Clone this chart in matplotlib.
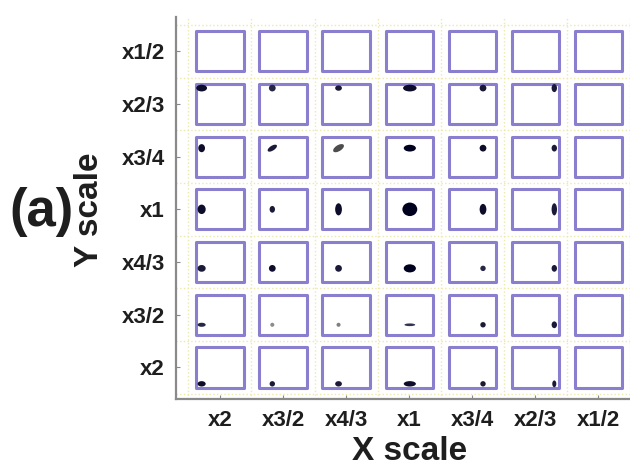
"""
Scale-response grid: each cell shows where the detector response lands
for a given (X scale, Y scale) pair.
"""

import numpy as np
import matplotlib
matplotlib.use('Agg')
import matplotlib.pyplot as plt
from matplotlib.patches import Rectangle, Ellipse


# ─────────────────────────────────────────────────────────────────────
# Data
# ─────────────────────────────────────────────────────────────────────

X_LABELS = ['x2', 'x3/2', 'x4/3', 'x1', 'x3/4', 'x2/3', 'x1/2']
Y_LABELS = ['x2', 'x3/2', 'x4/3', 'x1', 'x3/4', 'x2/3', 'x1/2']   # bottom -> top

# response shift inside a cell (fraction of cell), NaN = no response
SHIFT_X = [-0.29, -0.17, -0.12, 0.01, 0.17, 0.30, np.nan]
SHIFT_Y = [-0.31, -0.19, -0.12, 0.00, 0.16, 0.30, np.nan]

# blob extent (px in the original image), rows bottom -> top, cols x2 .. x2/3
BLOB_W = [
    [6, 4, 5, 9, 4, 3],
    [6, 3, 3, 8, 4, 4],
    [6, 5, 5, 9, 4, 4],
    [6, 4, 5, 11, 5, 4],
    [5, 4, 5, 9, 5, 4],
    [8, 5, 5, 10, 5, 4],
]
BLOB_H = [
    [4, 4, 4, 4, 4, 5],
    [3, 3, 3, 2, 4, 5],
    [5, 5, 5, 6, 4, 5],
    [7, 5, 9, 10, 8, 9],
    [6, 7, 8, 5, 5, 5],
    [5, 5, 4, 5, 5, 6],
]
BLOB_ANGLE = [
    [0, 0, 0, 0, 0, 0],
    [0, 0, 0, 0, 0, 0],
    [-20, 0, 0, 0, 0, 0],
    [0, 0, 0, 0, 0, 0],
    [0, -50, -50, 0, 0, 0],
    [0, 0, 0, 0, 0, 0],
]
BLOB_SHADE = [
    [0.05, 0.1, 0.1, 0.05, 0.1, 0.1],
    [0.15, 0.55, 0.5, 0.2, 0.1, 0.1],
    [0.1, 0.05, 0.1, 0.0, 0.15, 0.1],
    [0.05, 0.1, 0.05, 0.0, 0.05, 0.1],
    [0.05, 0.1, 0.3, 0.0, 0.05, 0.1],
    [0.05, 0.15, 0.1, 0.05, 0.1, 0.1],
]

BOX_COLOR = '#8a7fcf'
TEXT_COLOR = '#1e1e1e'
PX_X, PX_Y = 63.0, 52.7           # pixels per cell in the reference
FONT = ['Liberation Sans Narrow', 'Liberation Sans', 'DejaVu Sans']

plt.rcParams['font.family'] = FONT

fig = plt.figure(figsize=(6.3, 4.69), dpi=100)
ax = fig.add_axes([0.279, 0.149, 0.721, 0.815])

n = len(X_LABELS)
for j in range(n):
    for i in range(n):
        ax.add_patch(Rectangle((i - 0.375, j - 0.38), 0.75, 0.76,
                               fill=False, edgecolor=BOX_COLOR, lw=2.2,
                               joinstyle='round', zorder=2))

for j in range(n - 1):
    for i in range(n - 1):
        cx = i + SHIFT_X[i]
        cy = j + SHIFT_Y[j]
        g = BLOB_SHADE[j][i]
        col = (g, g, g + 0.12 if g < 0.3 else g)
        ax.add_patch(Ellipse((cx, cy), BLOB_W[j][i] * 1.35 / PX_X,
                             BLOB_H[j][i] * 1.35 / PX_Y, angle=BLOB_ANGLE[j][i],
                             facecolor=col, edgecolor='none', zorder=3))

ax.set_xlim(-0.7, 6.5)
ax.set_ylim(-0.6, 6.65)
ax.set_xticks(range(n))
ax.set_xticklabels(X_LABELS)
ax.set_yticks(range(n))
ax.set_yticklabels(Y_LABELS)
ax.set_xticks(np.arange(-0.5, n, 1), minor=True)
ax.set_yticks(np.arange(-0.5, n, 1), minor=True)
ax.grid(True, which='minor', color='#efe9a8', linestyle=':', lw=1.0, zorder=0)
ax.tick_params(which='minor', length=0)
ax.tick_params(which='major', direction='in', length=3, color='#888888',
               labelsize=16, labelcolor=TEXT_COLOR, pad=8)
for lab in ax.get_xticklabels() + ax.get_yticklabels():
    lab.set_fontweight('bold')

for s in ['top', 'right']:
    ax.spines[s].set_visible(False)
for s in ['left', 'bottom']:
    ax.spines[s].set_color('#8a8a8a')
    ax.spines[s].set_linewidth(1.6)

fig.text(410 / 630, 1 - 451 / 469, 'X scale', fontsize=24, fontweight='bold',
         color=TEXT_COLOR, ha='center', va='center')
fig.text(90 / 630, 1 - 210 / 469, 'Y scale', fontsize=24, fontweight='bold',
         color=TEXT_COLOR, ha='center', va='center', rotation=90)
fig.text(41 / 630, 1 - 212 / 469, '(a)', fontsize=38, fontweight='bold',
         color=TEXT_COLOR, ha='center', va='center')

fig.savefig('out.png', dpi=100)
